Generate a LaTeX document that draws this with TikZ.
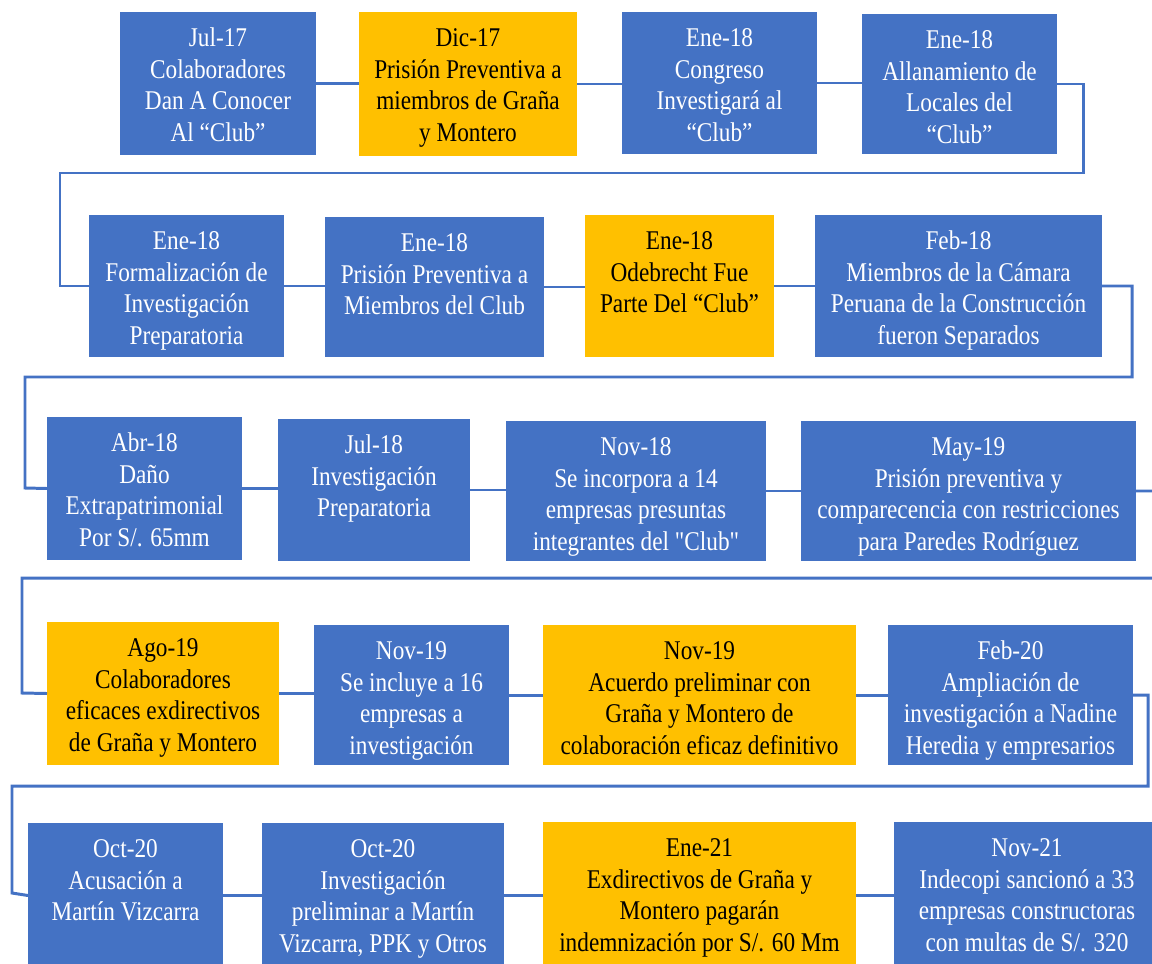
\documentclass[tikz,border=0pt]{standalone}
\usepackage{fontspec}
\setmainfont{Liberation Serif}[FakeStretch=0.86, Ligatures=TeXOff]
\definecolor{evblue}{HTML}{4472C4}
\definecolor{evgold}{HTML}{FFC000}
\usetikzlibrary{positioning,calc}
\newlength\pxu \setlength\pxu{0.02cm}
\newcommand{\evtext}[3]{\parbox[c][#2\pxu][t]{#1\pxu}{\centering\fontsize{15.4}{17.9}\selectfont\vspace*{7.2pt}\strut #3}}
\tikzset{
  evbox/.style={inner sep=0pt, outer sep=0pt, anchor=north west},
  evblu/.style={evbox, fill=evblue, text=white},
  evgld/.style={evbox, fill=evgold, text=black},
  link/.style={draw=evblue, line width=1.7pt}
}
\begin{document}
\begin{tikzpicture}[x=0.02cm, y=-0.02cm]
    \useasboundingbox (0,0) rectangle (1152,963);
    \clip (0,0) rectangle (1152,963);
    \fill[white] (0,0) rectangle (1152,963);
    % row 1
    \node[evblu] (b1) at (120,12) {\evtext{196}{143}{Jul-17\\Colaboradores\\Dan A Conocer\\Al “Club”}};
    \node[evgld] (b2) at (359,12) {\evtext{218}{144}{Dic-17\\Prisión Preventiva a\\miembros de Graña\\y Montero}};
    \node[evblu] (b3) at (622,12) {\evtext{195}{142}{Ene-18\\Congreso\\Investigará al\\“Club”}};
    \node[evblu] (b4) at (862,14) {\evtext{195}{140}{Ene-18\\Allanamiento de\\Locales del\\“Club”}};
    % row 2
    \node[evblu] (b5) at (89,215) {\evtext{195}{142}{Ene-18\\Formalización de\\Investigación\\Preparatoria}};
    \node[evblu] (b6) at (325,217) {\evtext{219}{140}{Ene-18\\Prisión Preventiva a\\Miembros del Club}};
    \node[evgld] (b7) at (585,215) {\evtext{189}{142}{Ene-18\\Odebrecht Fue\\Parte Del “Club”}};
    \node[evblu] (b8) at (815,215) {\evtext{287}{142}{Feb-18\\Miembros de la Cámara\\Peruana de la Construcción\\fueron Separados}};
    % row 3
    \node[evblu] (b9) at (47,417) {\evtext{195}{143}{Abr-18\\Daño\\Extrapatrimonial\\Por S/. 65mm}};
    \node[evblu] (b10) at (278,419) {\evtext{192}{142}{Jul-18\\Investigación\\Preparatoria}};
    \node[evblu] (b11) at (506,421) {\evtext{260}{140}{Nov-18\\Se incorpora a 14\\empresas presuntas\\integrantes del "Club"}};
    \node[evblu] (b12) at (801,421) {\evtext{335}{140}{May-19\\Prisión preventiva y\\comparecencia con restricciones\\para Paredes Rodríguez}};
    % row 4
    \node[evgld] (b13) at (47,622) {\evtext{232}{143}{Ago-19\\Colaboradores\\eficaces exdirectivos\\de Graña y Montero}};
    \node[evblu] (b14) at (314,625) {\evtext{195}{140}{Nov-19\\Se incluye a 16\\empresas a\\investigación}};
    \node[evgld] (b15) at (543,625) {\evtext{313}{140}{Nov-19\\Acuerdo preliminar con\\Graña y Montero de\\colaboración eficaz definitivo}};
    \node[evblu] (b16) at (888,625) {\evtext{245}{140}{Feb-20\\Ampliación de\\investigación a Nadine\\Heredia y empresarios}};
    % row 5
    \node[evblu] (b17) at (28,823) {\evtext{195}{145}{Oct-20\\Acusación a\\Martín Vizcarra}};
    \node[evblu] (b18) at (262,823) {\evtext{242}{145}{Oct-20\\Investigación\\preliminar a Martín\\Vizcarra, PPK y Otros}};
    \node[evgld] (b19) at (543,822) {\evtext{313}{146}{Ene-21\\Exdirectivos de Graña y\\Montero pagarán\\indemnización por S/. 60 Mm}};
    \node[evblu] (b20) at (894,822) {\evtext{266}{146}{Nov-21\\Indecopi sancionó a 33\\empresas constructoras\\con multas de S/. 320}};
    % links
    \foreach \a/\b in {b1/b2,b2/b3,b3/b4,b5/b6,b6/b7,b7/b8,b9/b10,b10/b11,b11/b12,b13/b14,b14/b15,b15/b16,b17/b18,b18/b19,b19/b20}
        \draw[link] (\a.east) -- (\a.east -| \b.west);
    \draw[link] (b4.east) -| (1083,173) -| (60,286) -- (b5.west);
    \draw[link] (b8.east) -| (1132,377) -| (25,488) -- (b9.west);
    \draw[link] (b12.east) -| (1162,578) -| (22,693) -- (b13.west);
    \draw[link] (b16.east) -| (1148,786) -| (12,893) -- (b17.west);
\end{tikzpicture}
\end{document}
